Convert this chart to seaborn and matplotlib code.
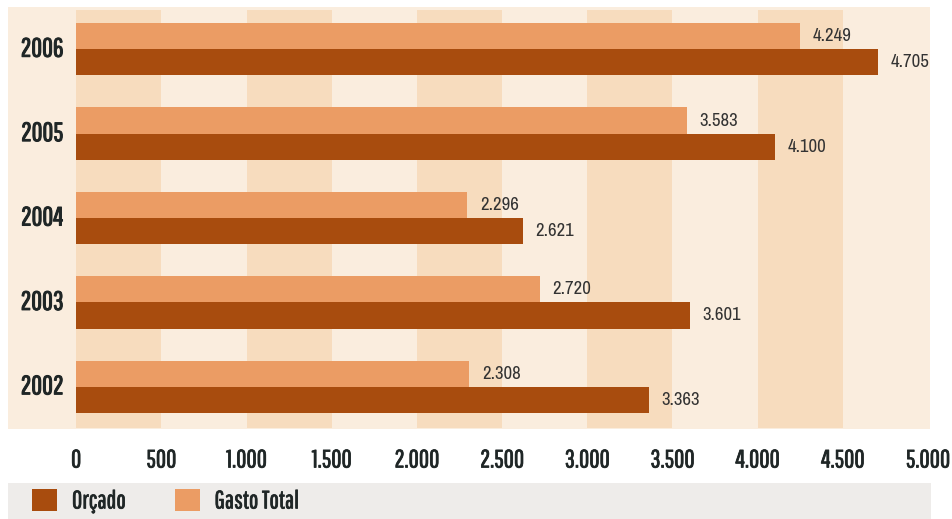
import matplotlib
matplotlib.use("Agg")
import matplotlib.pyplot as plt
import matplotlib.patheffects as pe
from matplotlib.patches import Patch
import seaborn as sns
import pandas as pd

years = ["2006", "2005", "2004", "2003", "2002"]
orcado = [4705, 4100, 2621, 3601, 3363]
gasto_total = [4249, 3583, 2296, 2720, 2308]
x_ticks = [0, 500, 1000, 1500, 2000, 2500, 3000, 3500, 4000, 4500, 5000]
series_names = ["Orçado", "Gasto Total"]

COL_ORCADO = "#A84C0E"
COL_GASTO = "#EB9C64"
PANEL = "#FAEDDE"
BAND = "#F7DCBE"
LEGEND_BG = "#EEECEA"
TEXT = "#1F2626"

HEAD_FONT = ["Pathway Gothic One", "DejaVu Sans"]
VALUE_FONT = ["Archivo Narrow", "DejaVu Sans"]

sns.set_theme(style="white")
plt.rcParams["font.family"] = HEAD_FONT

# a thin outline in the text colour gives the condensed face a heavier weight
HEAVY = [pe.withStroke(linewidth=0.55, foreground=TEXT)]


def fmt(v):
    return f"{v:,}".replace(",", ".")


df = pd.DataFrame({
    "ano": years * 2,
    "valor": orcado + gasto_total,
    "serie": [series_names[0]] * len(years) + [series_names[1]] * len(years),
})

fig = plt.figure(figsize=(9.52, 5.19), dpi=100)
W, H = 952, 519
ax = fig.add_axes([8 / W, 1 - 429 / H, 922 / W, 422 / H])
ax.set_facecolor(PANEL)

palette = {series_names[0]: COL_ORCADO, series_names[1]: COL_GASTO}
sns.barplot(data=df, x="valor", y="ano", hue="serie", order=years,
            hue_order=[series_names[1], series_names[0]], palette=palette,
            orient="h", width=0.62, gap=0, saturation=1, legend=False,
            linewidth=0, edgecolor="none", ax=ax, zorder=3)

# alternating vertical bands every 500
for i in range(0, len(x_ticks) - 1, 2):
    ax.axvspan(x_ticks[i], x_ticks[i + 1], ymin=0.003, ymax=0.993,
               color=BAND, lw=0, zorder=1)

for cont in ax.containers:
    vals = [bar.get_width() for bar in cont]
    ax.bar_label(cont, labels=[fmt(int(round(v))) for v in vals], padding=9,
                 fontsize=13.5, color="#333333", family=VALUE_FONT)

ax.set_xlim(-400, 5012)
ax.set_ylim(len(years) - 0.5, -0.5)
ax.set_xticks(x_ticks)
ax.set_xticklabels([fmt(t) for t in x_ticks], fontsize=18, color=TEXT)
for lbl in ax.get_xticklabels():
    lbl.set_path_effects(HEAVY)
ax.tick_params(axis="x", length=0, pad=14)
ax.set_yticks([])
ax.set_xlabel("")
ax.set_ylabel("")
for s in ax.spines.values():
    s.set_visible(False)

# year labels inside the panel
for i, y in enumerate(years):
    ax.text(-200, i, y, ha="center", va="center", fontsize=19,
            color=TEXT, zorder=4,
            path_effects=[pe.withStroke(linewidth=0.75, foreground=TEXT)])

# legend strip
lax = fig.add_axes([8 / W, 0, 923 / W, 36 / H])
lax.set_facecolor(LEGEND_BG)
lax.set_xticks([])
lax.set_yticks([])
for s in lax.spines.values():
    s.set_visible(False)
handles = [Patch(facecolor=COL_ORCADO, edgecolor="none"),
           Patch(facecolor=COL_GASTO, edgecolor="none")]
leg = lax.legend(handles, series_names, loc="center left",
                 bbox_to_anchor=(0.026, 0.5), ncol=2, frameon=False,
                 fontsize=18, handlelength=1.0, handleheight=1.0,
                 handletextpad=0.6, columnspacing=1.95, labelcolor=TEXT,
                 borderaxespad=0, borderpad=0)
for t in leg.get_texts():
    t.set_path_effects(HEAVY)

fig.savefig("out.png", dpi=100)
